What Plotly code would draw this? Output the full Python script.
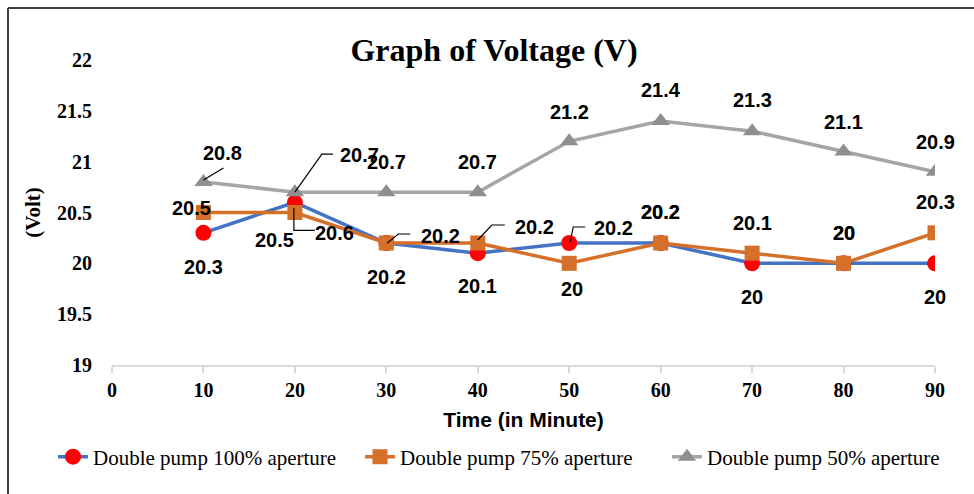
import plotly.graph_objects as go

# Sampling times (minutes) and measured voltages for each pump setting
time_min = [10, 20, 30, 40, 50, 60, 70, 80, 90]
v_100 = [20.3, 20.6, 20.2, 20.1, 20.2, 20.2, 20.0, 20.0, 20.0]
v_75 = [20.5, 20.5, 20.2, 20.2, 20.0, 20.2, 20.1, 20.0, 20.3]
v_50 = [20.8, 20.7, 20.7, 20.7, 21.2, 21.4, 21.3, 21.1, 20.9]

series_names = [
    "Double pump 100% aperture",
    "Double pump 75% aperture",
    "Double pump 50% aperture",
]
x_ticks = [0, 10, 20, 30, 40, 50, 60, 70, 80, 90]
y_ticks = [19, 19.5, 20, 20.5, 21, 21.5, 22]

W, H = 974, 494
ML, MR, MT, MB = 112, 39, 60, 129
PW, PH = W - ML - MR, H - MT - MB

SERIF = "Liberation Serif, Times New Roman, serif"
SANS = "Liberation Sans, Arial, sans-serif"

styles = [
    dict(line=dict(color="#4472C4", width=3.5),
         marker=dict(symbol="circle", size=16, color="#FF0000")),
    dict(line=dict(color="#D4702A", width=3.5),
         marker=dict(symbol="square", size=15, color="#D4702A")),
    dict(line=dict(color="#A5A5A5", width=3.5),
         marker=dict(symbol="triangle-up", size=16, color="#8F8F8F")),
]

# Label offsets in screen pixels (dx right, dy down) from each point
label_offsets = [
    [(0, 34), (40, 31), (0, 34), (0, 33), (44, -15), (0, -31), (0, 34), (0, -30), (0, 34)],
    [(-12, -5), (-20, 27), (54, -7), (57, -16), (3, 26), (0, -31), (0, -30), (0, -30), (0, -31)],
    [(19, -29), (65, -37), (0, -30), (0, -30), (0, -29), (0, -31), (0, -31), (0, -30), (0, -30)],
]

# Elbow leader lines (screen pixels, y down) for labels pulled away from their point
leaders = {
    (0, 1): [(-1, 6), (-1, 28), (20, 28)],
    (0, 4): [(1, -1), (4, -16), (16, -16)],
    (1, 2): [(1, 0), (12, -9), (24, -9)],
    (1, 3): [(0, -3), (14, -18), (27, -18)],
    (2, 0): [(0, -2), (20, -14)],
    (2, 1): [(0, 0), (27, -38), (38, -38)],
}

fig = go.Figure()
all_series = [v_100, v_75, v_50]
for name, vals, st in zip(series_names, all_series, styles):
    fig.add_trace(go.Scatter(
        x=time_min, y=vals, name=name, mode="lines+markers",
        line=st["line"], marker=st["marker"],
    ))

annotations = []
shapes = []
for si, vals in enumerate(all_series):
    for pi, (t, v) in enumerate(zip(time_min, vals)):
        dx, dy = label_offsets[si][pi]
        annotations.append(dict(
            x=t, y=v, xref="x", yref="y", text=f"{v:g}", showarrow=False,
            xshift=dx, yshift=-dy,
            font=dict(family=SANS, size=20, color="#000000", weight="bold"),
        ))
        if (si, pi) in leaders:
            pts = leaders[(si, pi)]
            path = "M" + " L".join(f"{px},{-py}" for px, py in pts)
            shapes.append(dict(
                type="path", xref="x", yref="y", xsizemode="pixel", ysizemode="pixel",
                xanchor=t, yanchor=v, path=path,
                line=dict(color="#000000", width=1.2), layer="above",
            ))

# Outer chart frame (top and left edges)
def px_x(p):
    return (p - ML) / PW

def px_y(p):
    return (H - MB - p) / PH

frame = dict(color="#404040", width=2)
shapes.append(dict(type="line", xref="paper", yref="paper",
                   x0=px_x(8), x1=px_x(990), y0=px_y(8), y1=px_y(8), line=frame))
shapes.append(dict(type="line", xref="paper", yref="paper",
                   x0=px_x(8), x1=px_x(8), y0=px_y(8), y1=px_y(510), line=frame))

fig.update_layout(
    width=W, height=H,
    margin=dict(l=ML, r=MR, t=MT, b=MB),
    paper_bgcolor="white", plot_bgcolor="white",
    title=dict(text="Graph of Voltage (V)", x=494 / W, y=1 - 50 / H,
               xref="container", yref="container", xanchor="center", yanchor="middle",
               font=dict(family=SERIF, size=32, color="#000000", weight="bold")),
    xaxis=dict(
        range=[0, 90], tickvals=x_ticks, ticktext=[str(t) for t in x_ticks],
        showgrid=False, zeroline=False, showline=True, linecolor="#D9D9D9", linewidth=2,
        ticks="outside", ticklen=6, tickcolor="#D9D9D9", tickwidth=2,
        tickfont=dict(family=SERIF, size=20, color="#000000", weight="bold"),
        title=dict(text="Time (in Minute)", standoff=12,
                   font=dict(family=SANS, size=21, color="#000000", weight="bold")),
    ),
    yaxis=dict(
        range=[19, 22], tickvals=y_ticks, ticktext=[f"{t:g}" for t in y_ticks],
        showgrid=False, zeroline=False, showline=False, ticks="",
        ticklabelstandoff=19,
        tickfont=dict(family=SERIF, size=20, color="#000000", weight="bold"),
        title=dict(text="(Volt)", standoff=10,
                   font=dict(family=SERIF, size=21, color="#000000", weight="bold")),
    ),
    legend=dict(orientation="h", x=px_x(67), y=px_y(457), xanchor="left", yanchor="middle",
                font=dict(family=SERIF, size=21, color="#000000"), bgcolor="rgba(0,0,0,0)",
                entrywidth=262, entrywidthmode="pixels"),
    annotations=annotations, shapes=shapes,
)

fig.write_html("out.html")
